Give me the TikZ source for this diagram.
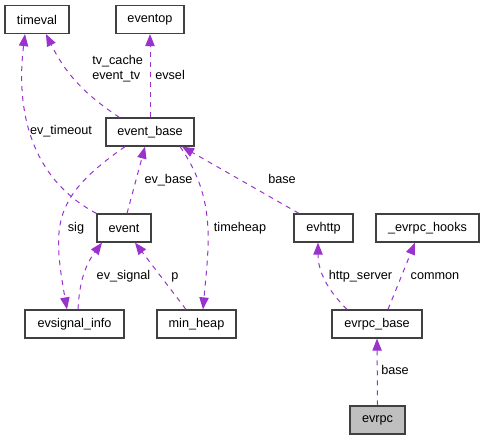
\documentclass[tikz,border=0pt]{standalone}
\usepackage{fontspec}
\setmainfont{Liberation Sans}
\usetikzlibrary{arrows.meta, positioning, calc}
\definecolor{edgepurple}{HTML}{9A32CD}
\definecolor{boxgray}{HTML}{404040}

\begin{document}
\begin{tikzpicture}[x=0.75pt, y=0.75pt, font=\fontsize{9.5}{11}\selectfont,
            cls/.style={draw=boxgray, line width=0.9pt, minimum height=21pt, inner sep=0pt},
            flow/.style={-{Triangle[length=9pt,width=7pt]}, edgepurple, line width=0.75pt, dash pattern=on 3.75pt off 3.75pt},
            lbl/.style={inner sep=0pt, text height=6.8pt, text depth=0pt}]

            % Page frame
            \useasboundingbox (0,0) rectangle (484,-440);

            % Classes
            \node[cls, minimum width=48pt] (timeval) at (37,-19.5) {timeval};
            \node[cls, minimum width=51pt] (eventop) at (150,-19.5) {eventop};
            \node[cls, minimum width=66pt] (event_base) at (150,-132) {event\_base};
            \node[cls, minimum width=40.5pt] (event) at (124,-228) {event};
            \node[cls, minimum width=44.25pt] (evhttp) at (323.5,-228) {evhttp};
            \node[cls, minimum width=77.25pt] (evrpc_hooks) at (427.5,-228) {\_evrpc\_hooks};
            \node[cls, minimum width=74.25pt] (evsignal_info) at (74.5,-324) {evsignal\_info};
            \node[cls, minimum width=59.25pt] (min_heap) at (196.5,-324) {min\_heap};
            \node[cls, minimum width=67.5pt] (evrpc_base) at (377,-324) {evrpc\_base};
            \node[cls, minimum width=41.25pt, fill=black!25] (evrpc) at (377.5,-420) {evrpc};

            % Member edges
            \draw[flow] ($(event_base.north west)+(14,0)$) to[bend left=15] ($(timeval.south)+(9,0)$);
            \draw[flow] (event.north west) to[out=152,in=-97] ($(timeval.south)+(-12,0)$);
            \draw[flow] (event_base.north) -- (eventop.south);
            \draw[flow] ($(event_base.south)+(-25,0)$) to[out=-145,in=100,looseness=1.3] ($(evsignal_info.north)+(-7.5,0)$);
            \draw[flow] ($(event.north)+(3,0)$) -- ($(event_base.south)+(-5,0)$);
            \draw[flow] ($(event_base.south)+(30,0)$) to[out=-55,in=85] ($(min_heap.north)+(6.5,0)$);
            \draw[flow] ($(evhttp.north)+(-24.5,0)$) -- ($(event_base.south)+(32,0)$);
            \draw[flow] ($(evsignal_info.north)+(3.5,0)$) to[bend left=17] ($(event.south)+(-22,0)$);
            \draw[flow] ($(min_heap.north)+(-10.5,0)$) -- ($(event.south)+(11,0)$);
            \draw[flow] ($(evrpc_base.north)+(-30,0)$) to[out=135,in=-90] ($(evhttp.south)+(-5.5,0)$);
            \draw[flow] ($(evrpc_base.north)+(11,0)$) -- ($(evrpc_hooks.south)+(-12.5,0)$);
            \draw[flow] (evrpc.north) -- (evrpc_base.south);

            % Edge labels
            \node[lbl, align=left, anchor=west] (l_tv) at (92,-75) {tv\_cache\\event\_tv};
            \node[lbl, anchor=west] (l_evsel) at (155,-75) {evsel};
            \node[lbl] (l_timeout) at (61,-130) {ev\_timeout};
            \node[lbl] (l_evbase) at (168.5,-179) {ev\_base};
            \node[lbl] (l_base1) at (282,-179) {base};
            \node[lbl] (l_sig) at (76,-227) {sig};
            \node[lbl] (l_timeheap) at (240,-227) {timeheap};
            \node[lbl] (l_signal) at (123.5,-275) {ev\_signal};
            \node[lbl] (l_p) at (175,-275) {p};
            \node[lbl] (l_http) at (360.5,-275) {http\_server};
            \node[lbl] (l_common) at (435,-275) {common};
            \node[lbl] (l_base2) at (395,-370) {base};
        \end{tikzpicture}
\end{document}
